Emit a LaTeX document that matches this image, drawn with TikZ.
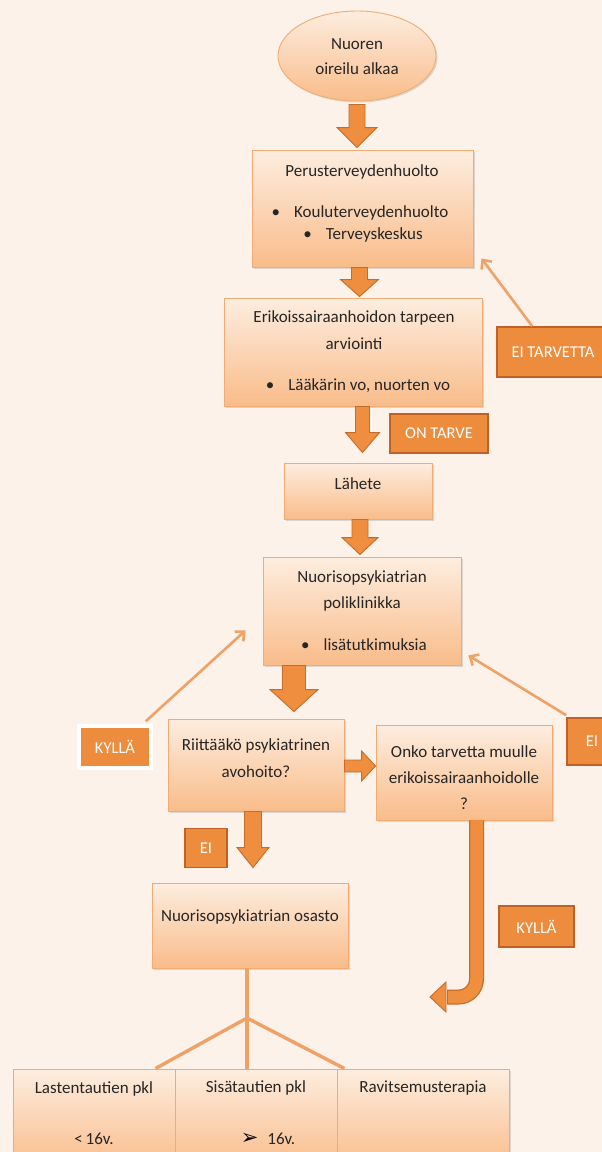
\documentclass[tikz,border=0pt]{standalone}
\usepackage{fontspec}
\setmainfont{Carlito}
\newfontfamily\djv{DejaVu Sans}
\usetikzlibrary{shapes.geometric,shadows,calc,arrows.meta}
\definecolor{bgc}{RGB}{252,242,233}
\definecolor{boxtop}{RGB}{253,237,223}
\definecolor{boxbot}{RGB}{249,188,138}
\definecolor{boxedge}{RGB}{240,172,116}
\definecolor{arrfill}{RGB}{239,142,62}
\definecolor{arredge}{RGB}{196,108,44}
\definecolor{lblfill}{RGB}{238,140,62}
\definecolor{lbledge}{RGB}{192,98,40}
\definecolor{thin}{RGB}{240,162,102}
\tikzset{
  box/.style={draw=boxedge, line width=0.9pt, top color=boxtop, bottom color=boxbot,
    drop shadow={opacity=0.25, shadow xshift=1.5pt, shadow yshift=-1.5pt}, inner sep=0pt},
  txt/.style={inner sep=0pt, align=center, font=\fontsize{17}{22}\selectfont, text=black!85},
  lbl/.style={rectangle, draw=lbledge, line width=1.6pt, fill=lblfill, inner sep=0pt,
    text=white, font=\fontsize{16.5}{18}\selectfont},
  thinarrow/.style={draw=thin, line width=2.6pt, -{Straight Barb[length=7pt,width=13pt]}},
  blockarrow/.style n args={3}{draw=arredge, fill=arrfill, line width=0.9pt, line join=miter,
    to path={ ($(\tikztostart)!#1!90:(\tikztotarget)$)
      -- ($($(\tikztotarget)!#3!(\tikztostart)$)!#1!90:(\tikztotarget)$)
      -- ($($(\tikztotarget)!#3!(\tikztostart)$)!#2!90:(\tikztotarget)$)
      -- (\tikztotarget)
      -- ($($(\tikztotarget)!#3!(\tikztostart)$)!#2!-90:(\tikztotarget)$)
      -- ($($(\tikztotarget)!#3!(\tikztostart)$)!#1!-90:(\tikztotarget)$)
      -- ($(\tikztostart)!#1!-90:(\tikztotarget)$) -- cycle }},
  treeline/.style={draw=thin, line width=3.4pt}
}
\begin{document}
\begin{tikzpicture}[x=1pt,y=-1pt]
\fill[bgc] (0,0) rectangle (602,1152);
\useasboundingbox (0,0) rectangle (602,1152);
\clip (0,0) rectangle (602,1152);

% ellipse
\node[box, ellipse, minimum width=158pt, minimum height=90pt] (e) at (357,56) {};
\node[txt, font=\fontsize{17}{25}\selectfont] (et) at (357,57) {Nuoren\\oireilu alkaa};

% box 1
\node[box, rectangle, minimum width=221pt, minimum height=117pt] (b1) at (362.5,208.5) {};
\node[txt] (b1a) at (362,172) {Perusterveydenhuolto};
\node[txt] (b1b) at (360,213) {•\hspace{14pt}Kouluterveydenhuolto};
\node[txt] (b1c) at (363,235) {•\hspace{14pt}Terveyskeskus};

% box 2
\node[box, rectangle, minimum width=258pt, minimum height=108pt] (b2) at (353.5,352) {};
\node[txt] (b2a) at (354,318) {Erikoissairaanhoidon tarpeen};
\node[txt] (b2b) at (354,344) {arviointi};
\node[txt] (b2c) at (358,386) {•\hspace{14pt}Lääkärin vo, nuorten vo};

% Lähete
\node[box, rectangle, minimum width=148pt, minimum height=56pt] (lah) at (358,491) {};
\node[txt] (laht) at (358,484) {Lähete};

% poliklinikka
\node[box, rectangle, minimum width=198pt, minimum height=108pt] (pk) at (362,611) {};
\node[txt] (pka) at (362,578) {Nuorisopsykiatrian};
\node[txt] (pkb) at (362,604) {poliklinikka};
\node[txt] (pkc) at (364,645) {•\hspace{14pt}lisätutkimuksia};

% Riittääkö
\node[box, rectangle, minimum width=176pt, minimum height=92pt] (rii) at (256,765) {};
\node[txt, font=\fontsize{17}{27}\selectfont] (riit) at (256,758) {Riittääkö psykiatrinen\\avohoito?};

% Onko
\node[box, rectangle, minimum width=176pt, minimum height=95pt] (onko) at (464,772.5) {};
\node[txt, font=\fontsize{17}{26}\selectfont] (onkot) at (464,778) {Onko tarvetta muulle\\erikoissairaanhoidolle\\?};

% osasto
\node[box, rectangle, minimum width=196pt, minimum height=85pt] (os) at (250.5,925.5) {};
\node[txt] (ost) at (250,917) {Nuorisopsykiatrian osasto};

% bottom boxes
\node[box, rectangle, minimum width=162pt, minimum height=100pt] (lt) at (94,1119) {};
\node[box, rectangle, minimum width=162pt, minimum height=100pt] (si) at (256,1119) {};
\node[box, rectangle, minimum width=172pt, minimum height=100pt] (ra) at (423,1119) {};
\node[txt] (lta) at (94,1089) {Lastentautien pkl};
\node[txt] (ltb) at (94,1139) {<\,16v.};
\node[txt] (sia) at (256,1088) {Sisätautien pkl};
\node[txt] (sib) at (268,1139) {{\djv\fontsize{21}{22}\selectfont\color{black}➢}\hspace{9pt}16v.};
\node[txt] (raa) at (423,1088) {Ravitsemusterapia};

% labels
\node[lbl, minimum width=112pt, minimum height=50pt] (eit) at (553,352) {EI TARVETTA\hspace{9pt}};
\node[lbl, minimum width=98pt, minimum height=39pt] (ont) at (439,433.5) {ON TARVE};
\node[lbl, draw=white, line width=3.5pt, minimum width=72pt, minimum height=42pt,
  drop shadow={opacity=0.3, shadow xshift=1pt, shadow yshift=-1.5pt}] (ky1) at (115,747) {KYLLÄ};
\node[lbl, minimum width=50pt, minimum height=47pt] (ei1) at (592,741.5) {EI\hspace{8pt}};
\node[lbl, minimum width=42pt, minimum height=39pt] (ei2) at (206,848) {EI};
\node[lbl, minimum width=75pt, minimum height=41pt] (ky2) at (536.5,926.5) {KYLLÄ};

% block arrows
\draw[blockarrow={8pt}{20pt}{20pt}] ([yshift=-3pt]e.south) to ([yshift=2pt]e.south |- b1.north);
\draw[blockarrow={8pt}{19pt}{17pt}] ([xshift=-3pt]b1.south) to ([xshift=-3pt,yshift=1pt]b1.south |- b2.north);
\draw[blockarrow={7pt}{17pt}{20pt}] ([xshift=9pt]b2.south) to ([xshift=9pt,yshift=10pt]b2.south |- lah.north);
\draw[blockarrow={8pt}{18pt}{17pt}] ([xshift=2pt]lah.south) to ([xshift=2pt,yshift=2pt]lah.south |- pk.north);
\draw[blockarrow={11.5pt}{24pt}{22pt}] ([xshift=-68pt]pk.south) to ([xshift=-68pt,yshift=7pt]pk.south |- rii.north);
\draw[blockarrow={8.5pt}{16pt}{20pt}] ([xshift=-3pt]rii.south) to ([xshift=-3pt,yshift=15pt]rii.south |- os.north);
\draw[blockarrow={6pt}{15pt}{14pt}] ([yshift=-1pt]rii.east) to ([yshift=-1pt]rii.east -| onko.west);

% curved arrow
\coordinate (ctip) at (430,997);
\coordinate (cbase) at (446,997);
\draw[draw=arredge, line width=15pt, rounded corners=18pt] ([xshift=12.5pt]onko.south) |- ([xshift=1pt]cbase);
\draw[draw=arrfill, line width=12.5pt, rounded corners=18pt] ([xshift=12.5pt,yshift=0.5pt]onko.south) |- ([xshift=2pt]cbase);
\draw[draw=arredge, fill=arrfill, line width=0.9pt, line join=miter]
  ([yshift=15pt]cbase) -- (ctip) -- ([yshift=-15pt]cbase) -- cycle;

% thin arrows
\draw[thinarrow] ([xshift=36pt]eit.north west) -- ([xshift=8pt,yshift=9pt]b1.south east);
\draw[thinarrow] ([xshift=-7pt,yshift=3pt]ky1.north east) -- ([xshift=-17pt,yshift=35pt]pk.south west);
\draw[thinarrow] ([yshift=2pt]ei1.north west) -- ([xshift=7pt,yshift=10pt]pk.south east);

% tree
\coordinate (j) at (247,1018);
\draw[treeline] ([xshift=-3.5pt]os.south) -- (j);
\draw[treeline] (j) -- (j |- si.north);
\draw[treeline] (j) -- ([xshift=-20pt]lt.north east);
\draw[treeline] (j) -- ([xshift=7pt]si.north east);
\end{tikzpicture}
\end{document}
